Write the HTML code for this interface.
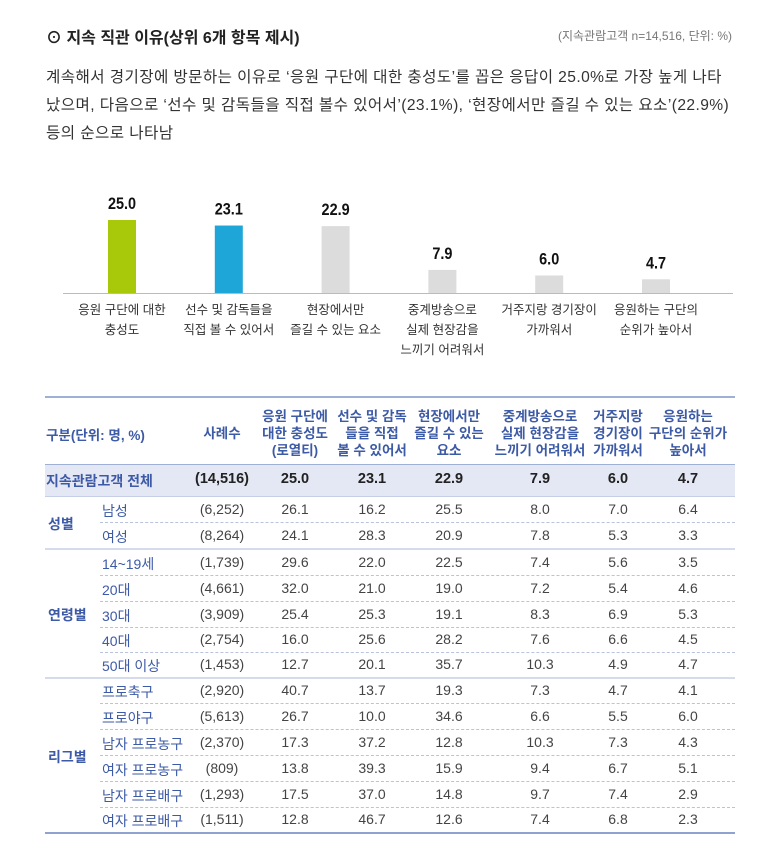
<!DOCTYPE html>
<html><head><meta charset="utf-8">
<style>
body{margin:0;width:758px;height:850px;background:#fff;position:relative;overflow:hidden;font-family:"Liberation Sans","Noto Sans CJK KR",sans-serif;color:#333}
.a{position:absolute;white-space:nowrap}
.c{text-align:center;transform:translateX(-50%)}
.hd{color:#3d5aa6;font-size:13.5px;line-height:17px;text-align:center;font-weight:bold}
.cell{font-size:14px;color:#444}
</style></head><body>
<div class="a" style="left:46px;top:24px;font-size:16px;font-weight:bold;color:#222">⊙ 지속 직관 이유(상위 6개 항목 제시)</div>
<div class="a" style="right:26px;top:27px;font-size:12px;color:#777">(지속관람고객 n=14,516, 단위: %)</div>
<div class="a" style="left:46px;top:64px;font-size:15.6px;line-height:28px;color:#333;letter-spacing:0.4px">계속해서 경기장에 방문하는 이유로 ‘응원 구단에 대한 충성도’를 꼽은 응답이 25.0%로 가장 높게 나타<br>났으며, 다음으로 ‘선수 및 감독들을 직접 볼수 있어서’(23.1%), ‘현장에서만 즐길 수 있는 요소’(22.9%)<br>등의 순으로 나타남</div>
<svg class="a" style="left:0;top:0" width="758" height="370" id="chart"></svg>
<div id="tbl"></div>
<script>
const categories=["응원 구단에 대한|충성도","선수 및 감독들을|직접 볼 수 있어서","현장에서만|즐길 수 있는 요소","중계방송으로|실제 현장감을|느끼기 어려워서","거주지랑 경기장이|가까워서","응원하는 구단의|순위가 높아서"];
const values=[25.0,23.1,22.9,7.9,6.0,4.7];
const barColors=["#a8c80a","#1ea6d8","#dcdcdc","#dcdcdc","#dcdcdc","#dcdcdc"];
const NS="http://www.w3.org/2000/svg";
const svg=document.getElementById('chart');
const base=293, scale=2.92, x0=122, step=106.8, bw=28;
function xAt(i){return x0+i*step}
function yAt(v){return base-v*scale}
function mk(t,attrs){const e=document.createElementNS(NS,t);for(const k in attrs)e.setAttribute(k,attrs[k]);svg.appendChild(e);return e}
const ax=mk('line',{x1:63,x2:733,y1:base+0.5,y2:base+0.5,stroke:'#bbb','stroke-width':1});


values.forEach((v,i)=>{
 const r=mk('rect',{x:xAt(i)-bw/2,y:yAt(v),width:bw,height:v*scale,fill:barColors[i]});
 
 
 const t=mk('text',{x:xAt(i),y:yAt(v)-11,'text-anchor':'middle','font-size':17,'font-weight':'bold',fill:'#111',transform:`translate(${xAt(i)},0) scale(0.85,1) translate(${-xAt(i)},0)`});
 t.textContent=v.toFixed(1);
 
 
 categories[i].split('|').forEach((ln,j)=>{
  const l=mk('text',{x:xAt(i),y:314+j*20,'text-anchor':'middle','font-size':12.5,fill:'#333'});
  l.textContent=ln;
  
  
 });
});

const heads=["사례수","응원 구단에<br>대한 충성도<br>(로열티)","선수 및 감독<br>들을 직접<br>볼 수 있어서","현장에서만<br>즐길 수 있는<br>요소","중계방송으로<br>실제 현장감을<br>느끼기 어려워서","거주지랑<br>경기장이<br>가까워서","응원하는<br>구단의 순위가<br>높아서"];
const colX=[222,295,372,449,540,618,688];
const groups=["성별","연령별","리그별"];
const rowLabels=["남성","여성","14~19세","20대","30대","40대","50대 이상","프로축구","프로야구","남자 프로농구","여자 프로농구","남자 프로배구","여자 프로배구"];
const rowGroup=[0,0,1,1,1,1,1,2,2,2,2,2,2];
const counts=["(6,252)","(8,264)","(1,739)","(4,661)","(3,909)","(2,754)","(1,453)","(2,920)","(5,613)","(2,370)","(809)","(1,293)","(1,511)"];
const totalRow=["(14,516)","25.0","23.1","22.9","7.9","6.0","4.7"];
const rows=[[26.1,16.2,25.5,8.0,7.0,6.4],[24.1,28.3,20.9,7.8,5.3,3.3],[29.6,22.0,22.5,7.4,5.6,3.5],[32.0,21.0,19.0,7.2,5.4,4.6],[25.4,25.3,19.1,8.3,6.9,5.3],[16.0,25.6,28.2,7.6,6.6,4.5],[12.7,20.1,35.7,10.3,4.9,4.7],[40.7,13.7,19.3,7.3,4.7,4.1],[26.7,10.0,34.6,6.6,5.5,6.0],[17.3,37.2,12.8,10.3,7.3,4.3],[13.8,39.3,15.9,9.4,6.7,5.1],[17.5,37.0,14.8,9.7,7.4,2.9],[12.8,46.7,12.6,7.4,6.8,2.3]];
const T=document.getElementById('tbl');
function div(html,style,name){const d=document.createElement('div');d.className='a';d.innerHTML=html;d.style.cssText=style;T.appendChild(d);return d}
div('','left:45px;top:396px;width:690px;height:2px;background:#9fb0d6','table-top-rule');
div('','left:45px;top:464px;width:690px;height:31px;background:#e4e7f4;border-top:1px solid #9fb0d6;border-bottom:1px solid #c7cfe6','total-row-bg');
div('구분(단위: 명, %)','left:46px;top:424px;color:#3d5aa6;font-size:13.5px;font-weight:bold','header-category');
heads.forEach((h,i)=>{const n=h.split('<br>').length;const d=div(h,`left:${colX[i]}px;top:${433-n*8.5}px`,'column-header');d.classList.add('hd','c')});
div('지속관람고객 전체','left:46px;top:471px;color:#3d5aa6;font-size:14px;font-weight:bold','total-row-label');
totalRow.forEach((v,i)=>{div(v,`left:${colX[i]}px;top:471px;font-size:14.5px;font-weight:bold;color:#222`,'total-value').classList.add('c')});
const rowY=[509,535,562,588,614,639,664,690,716,742,768,794,819];
rowLabels.forEach((l,r)=>{
 const y=rowY[r];
 div(l,`left:102px;top:${y-8}px;color:#3d5aa6;font-size:14px`,'row-label');
 div(counts[r],`left:${colX[0]}px;top:${y-8}px`,'sample-count').classList.add('c','cell');
 rows[r].forEach((v,i)=>{div(v.toFixed(1),`left:${colX[i+1]}px;top:${y-8}px`,'cell-value').classList.add('c','cell')});
 if(r<12){
  if(rowGroup[r]===rowGroup[r+1]) div('',`left:100px;top:${y+13}px;width:635px;border-top:1px dashed #b9c3de`,'row-divider');
  else div('',`left:45px;top:${y+13}px;width:690px;height:2px;background:#d5dbec`,'group-divider');
 }
});
const gy=[524,615,757];
groups.forEach((g,i)=>div(g,`left:48px;top:${gy[i]-10}px;color:#3d5aa6;font-size:14px;font-weight:bold`,'group-label'));
div('','left:45px;top:832px;width:690px;height:2px;background:#8fa3d2','table-bottom-rule');
</script>
</body></html>
